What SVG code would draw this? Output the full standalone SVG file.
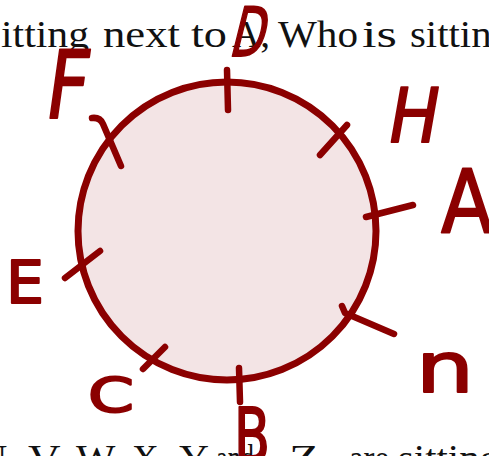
<svg xmlns="http://www.w3.org/2000/svg" width="489" height="456" viewBox="0 0 489 456">
  <style>
    .txt { font-family: "Liberation Serif", "DejaVu Serif", serif; font-size: 38px; fill: #111111; }
    .tick { fill: none; stroke: #8b0000; stroke-width: 6.5; stroke-linecap: round; stroke-linejoin: round; }
    .hw { font-family: "DejaVu Sans", "Liberation Sans", sans-serif; fill: #8b0000; stroke: #8b0000; stroke-width: 2; stroke-linejoin: round; }
  </style>
  <rect x="0" y="0" width="489" height="456" fill="#ffffff"/>

  <g id="text-top">
    <text class="txt" x="1" y="47" textLength="88" lengthAdjust="spacingAndGlyphs">itting</text>
    <text class="txt" x="103" y="47" textLength="77" lengthAdjust="spacingAndGlyphs">next</text>
    <text class="txt" x="191" y="47" textLength="36" lengthAdjust="spacingAndGlyphs">to</text>
    <text class="txt" x="232" y="47" textLength="38" lengthAdjust="spacingAndGlyphs">A,</text>
    <text class="txt" x="278" y="47" textLength="80" lengthAdjust="spacingAndGlyphs">Who</text>
    <text class="txt" x="362" y="47" textLength="35" lengthAdjust="spacingAndGlyphs">is</text>
    <text class="txt" x="410" y="47" textLength="102" lengthAdjust="spacingAndGlyphs">sitting</text>
  </g>

  <g id="text-bottom">
    <text class="txt" x="-21" y="471" textLength="38" lengthAdjust="spacingAndGlyphs">U,</text>
    <text class="txt" x="28" y="471" textLength="38" lengthAdjust="spacingAndGlyphs">V,</text>
    <text class="txt" x="76" y="471" textLength="46" lengthAdjust="spacingAndGlyphs">W,</text>
    <text class="txt" x="132" y="471" textLength="36" lengthAdjust="spacingAndGlyphs">X,</text>
    <text class="txt" x="179" y="471" textLength="30" lengthAdjust="spacingAndGlyphs">Y</text>
    <text class="txt" x="216" y="471" textLength="38" lengthAdjust="spacingAndGlyphs">and</text>
    <text class="txt" x="289" y="471" textLength="30" lengthAdjust="spacingAndGlyphs">Z</text>
    <text class="txt" x="349" y="471" textLength="40" lengthAdjust="spacingAndGlyphs">are</text>
    <text class="txt" x="398" y="471" textLength="102" lengthAdjust="spacingAndGlyphs">sitting</text>
  </g>

  <g id="table">
    <circle cx="227" cy="231" r="149" fill="#f3e4e5" stroke="#8b0000" stroke-width="7"/>
  </g>

  <g id="connectors">
    <path class="tick" d="M227,70 L228,110"/>
    <path class="tick" d="M92,118 Q100,117 103,124 L121,166"/>
    <path class="tick" d="M347,125 L320,155"/>
    <path class="tick" d="M366,217 L413,205"/>
    <path class="tick" d="M342,306 L345,313 L394,334"/>
    <path class="tick" d="M239,368 L240,402"/>
    <path class="tick" d="M165,347 L143,369"/>
    <path class="tick" d="M100,251 L65,278"/>
  </g>

  <g id="seat-D">
    <text class="hw" transform="translate(228,56) skewX(-14)" font-size="68" textLength="34" lengthAdjust="spacingAndGlyphs">D</text>
  </g>
  <g id="seat-F">
    <text class="hw" transform="translate(43,118) skewX(-8)" font-size="94" textLength="42" lengthAdjust="spacingAndGlyphs">F</text>
  </g>
  <g id="seat-H">
    <text class="hw" transform="translate(385,142) skewX(-10)" font-size="75" textLength="50" lengthAdjust="spacingAndGlyphs">H</text>
  </g>
  <g id="seat-A">
    <text class="hw" x="441" y="232" font-size="88" textLength="52" lengthAdjust="spacingAndGlyphs">A</text>
  </g>
  <g id="seat-n">
    <text class="hw" x="416" y="392" font-size="70" textLength="58" lengthAdjust="spacingAndGlyphs">n</text>
  </g>
  <g id="seat-B">
    <text class="hw" x="234" y="462" font-size="75" textLength="36" lengthAdjust="spacingAndGlyphs">B</text>
  </g>
  <g id="seat-C">
    <text class="hw" x="88" y="412" font-size="48" textLength="46" lengthAdjust="spacingAndGlyphs">C</text>
  </g>
  <g id="seat-E">
    <text class="hw" x="6" y="303" font-size="59" textLength="38" lengthAdjust="spacingAndGlyphs">E</text>
  </g>
</svg>
